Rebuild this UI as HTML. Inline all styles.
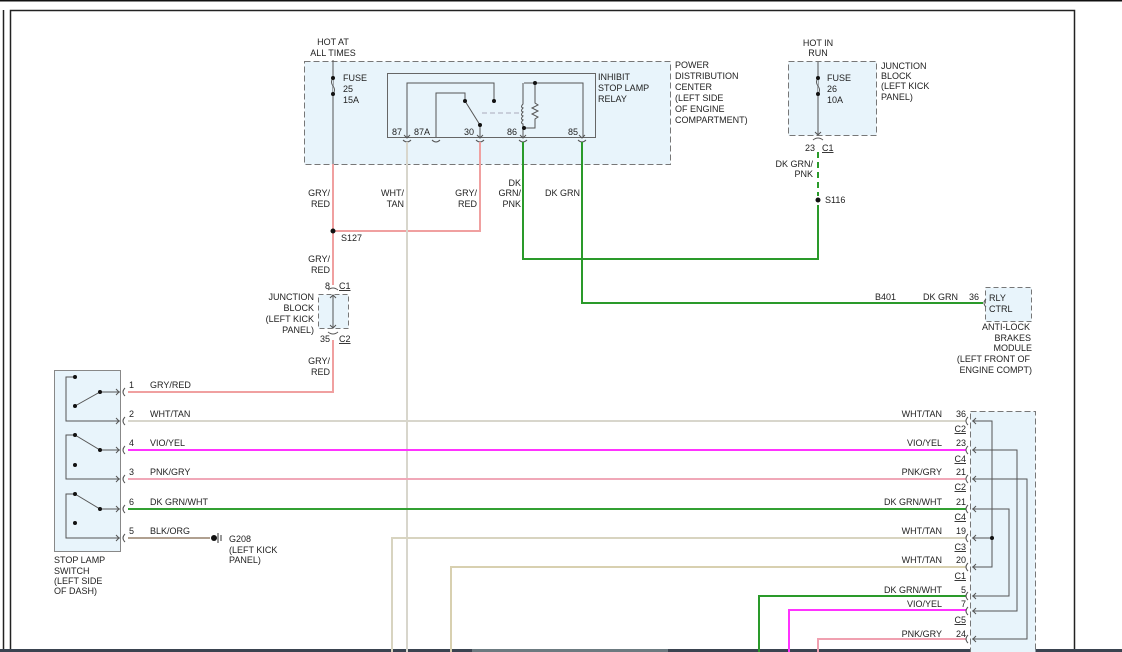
<!DOCTYPE html>
<html><head><meta charset="utf-8"><style>
html,body{margin:0;padding:0;background:#fff;width:1122px;height:652px;overflow:hidden}
svg{display:block}
text{font-family:"Liberation Sans",sans-serif;font-size:9px;fill:#222}
.e{text-anchor:end}.m{text-anchor:middle}
</style></head><body>
<svg width="1122" height="652" viewBox="0 0 1122 652" xmlns="http://www.w3.org/2000/svg">
<!-- frame -->
<line x1="0" y1="0.5" x2="1122" y2="0.5" stroke="#111" stroke-width="2"/>
<line x1="3.5" y1="10" x2="3.5" y2="652" stroke="#222" stroke-width="1.5"/>
<path d="M10.5 652 V10.5 H1074.5 V652" fill="none" stroke="#222" stroke-width="1.5"/>
<rect x="0" y="649" width="1122" height="3" fill="#3a4350"/>
<rect x="472" y="649" width="196" height="3" fill="#6c7a80"/>

<!-- PDC box -->
<rect x="304.5" y="61.5" width="366" height="103" fill="#e8f4fb" stroke="#777" stroke-dasharray="6,3"/>
<rect x="387.5" y="73.5" width="208" height="64" fill="#e8f4fb" stroke="#666"/>
<!-- relay internals -->
<g stroke="#555" fill="none" stroke-width="1">
<path d="M407 137 V83 H494 V101"/>
<path d="M436 137 V93 H465 V101"/>
<path d="M465 101 L480 125 V137"/>
<path d="M523 137 V128 H535 V119 l3 -2 -6 -3 6 -3 -6 -3 6 -3 -3 -2 V83 M524 83 H583 V137"/>
<path d="M523 128 V124 q-3 -1 0 -4 q-3 -1 0 -4 q-3 -1 0 -4 q-3 -1 0 -4 q-3 -1 0 -4 V83"/>
<line x1="482" y1="113" x2="520" y2="113" stroke="#aab" stroke-dasharray="5,3"/>
</g>
<g fill="#111"><circle cx="494" cy="101" r="2"/><circle cx="465" cy="101" r="2"/><circle cx="480" cy="125" r="2"/><circle cx="535" cy="83" r="2"/><circle cx="524" cy="128" r="2"/></g>
<g stroke="#555" fill="none">
<path d="M404 135 l3 3 3 -3 M403 140 q4 4 8 0"/>
<path d="M432 140 q4 4 8 0"/>
<path d="M477 135 l3 3 3 -3 M476 140 q4 4 8 0"/>
<path d="M520 135 l3 3 3 -3 M519 140 q4 4 8 0"/>
<path d="M579 135 l3 3 3 -3 M578 140 q4 4 8 0"/>
</g>
<text x="392" y="135">87</text><text x="414" y="135">87A</text><text x="464" y="135">30</text><text x="507" y="135">86</text><text x="568" y="135">85</text>
<!-- fuse 25 -->
<line x1="333" y1="60" x2="333" y2="164" stroke="#555"/>
<path d="M333 78 q-3 4 0 8 q3 4 0 8" stroke="#555" fill="#e8f4fb"/>
<circle cx="333" cy="78" r="2" fill="#111"/><circle cx="333" cy="94" r="2" fill="#111"/>
<text class="m" x="333" y="45">HOT AT</text><text class="m" x="333" y="56">ALL TIMES</text>
<text x="343" y="81">FUSE</text><text x="343" y="92">25</text><text x="343" y="103">15A</text>
<text x="598" y="80">INHIBIT</text><text x="598" y="91">STOP LAMP</text><text x="598" y="102">RELAY</text>
<text x="675" y="68">POWER</text><text x="675" y="79">DISTRIBUTION</text><text x="675" y="90">CENTER</text><text x="675" y="101">(LEFT SIDE</text><text x="675" y="112">OF ENGINE</text><text x="675" y="123">COMPARTMENT)</text>

<!-- wires -->
<g fill="none" stroke-width="2">
<path d="M333 164 V285 M333 340 V392 H128" stroke="#f0a0a0"/>
<path d="M333 231 H480 V142" stroke="#f0a0a0"/>
<path d="M407 142 V652" stroke="#d8d6cc"/>
<path d="M523 142 V259 H818 V205" stroke="#2a9a2a"/>
<path d="M582 142 V303 H983" stroke="#2a9a2a"/>
<path d="M818 152 V196" stroke="#2a9a2a" stroke-dasharray="6,4"/>
<path d="M128 421 H966" stroke="#d8d6cc"/>
<path d="M128 450 H966" stroke="#ff33ff"/>
<path d="M128 479 H966" stroke="#f0a8b8"/>
<path d="M128 509 H966" stroke="#33a033"/>
<path d="M128 538 H210" stroke="#b0a090"/>
<path d="M392 652 V538 H966" stroke="#d8d4c0"/>
<path d="M451 652 V567 H966" stroke="#d8d0b0"/>
<path d="M759 652 V596 H966" stroke="#2a9a2a"/>
<path d="M789 652 V610 H966" stroke="#ff33ff"/>
<path d="M818 652 V639 H966" stroke="#f0a0b0"/>
</g>
<circle cx="333" cy="231" r="2.5" fill="#111"/>
<text x="341" y="241">S127</text>
<text class="e" x="330" y="196">GRY/</text><text class="e" x="330" y="207">RED</text>
<text class="e" x="404" y="196">WHT/</text><text class="e" x="404" y="207">TAN</text>
<text class="e" x="477" y="196">GRY/</text><text class="e" x="477" y="207">RED</text>
<text class="e" x="521" y="186">DK</text><text class="e" x="521" y="196">GRN/</text><text class="e" x="521" y="207">PNK</text>
<text x="545" y="196">DK GRN</text>
<text class="e" x="330" y="262">GRY/</text><text class="e" x="330" y="273">RED</text>
<text class="e" x="330" y="364">GRY/</text><text class="e" x="330" y="375">RED</text>

<!-- small JB -->
<rect x="318.5" y="294.5" width="30" height="34" fill="#e8f4fb" stroke="#777" stroke-dasharray="5,3"/>
<path d="M333 295 V328 M330 298 l3 -3 3 3 M330 325 l3 3 3 -3 M328 290 q5 -4 10 0 M328 332 q5 4 10 0" stroke="#555" fill="none"/>
<text class="e" x="330" y="289">8</text><text x="339" y="289" text-decoration="underline">C1</text>
<text class="e" x="330" y="342">35</text><text x="339" y="342" text-decoration="underline">C2</text>
<text class="e" x="314" y="300">JUNCTION</text><text class="e" x="314" y="311">BLOCK</text><text class="e" x="314" y="322">(LEFT KICK</text><text class="e" x="314" y="333">PANEL)</text>

<!-- JB right -->
<rect x="788.5" y="61.5" width="88" height="74" fill="#e8f4fb" stroke="#777" stroke-dasharray="6,3"/>
<line x1="818" y1="62" x2="818" y2="135" stroke="#555"/>
<path d="M818 78 q-3 4 0 8 q3 4 0 8" stroke="#555" fill="#e8f4fb"/>
<circle cx="818" cy="78" r="2" fill="#111"/><circle cx="818" cy="94" r="2" fill="#111"/>
<path d="M815 132 l3 3 3 -3 M813 140 q5 -4 10 0" stroke="#555" fill="none"/>
<text class="m" x="818" y="46">HOT IN</text><text class="m" x="818" y="56">RUN</text>
<text x="827" y="81">FUSE</text><text x="827" y="92">26</text><text x="827" y="103">10A</text>
<text x="881" y="69">JUNCTION</text><text x="881" y="79">BLOCK</text><text x="881" y="89">(LEFT KICK</text><text x="881" y="100">PANEL)</text>
<text class="e" x="815" y="151">23</text><text x="822" y="151" text-decoration="underline">C1</text>
<text class="e" x="813" y="167">DK GRN/</text><text class="e" x="813" y="177">PNK</text>
<circle cx="818" cy="200" r="2.5" fill="#111"/><text x="825" y="203">S116</text>

<!-- ABS -->
<rect x="985.5" y="287.5" width="46" height="34" fill="#e8f4fb" stroke="#777" stroke-dasharray="5,3"/>
<path d="M986 299 q-4 4 0 8" stroke="#555" fill="none"/>
<text x="875" y="300">B401</text><text x="923" y="300">DK GRN</text><text x="969" y="300">36</text>
<text x="989" y="301">RLY</text><text x="989" y="312">CTRL</text>
<text class="e" x="1030" y="330">ANTI-LOCK</text><text class="e" x="1031" y="341">BRAKES</text><text class="e" x="1032" y="351">MODULE</text><text class="e" x="1030" y="362">(LEFT FRONT OF</text><text class="e" x="1032" y="373">ENGINE COMPT)</text>

<!-- switch -->
<rect x="54.5" y="370.5" width="66" height="181" fill="#e8f4fb" stroke="#888"/>
<g stroke="#555" fill="none">
<path d="M75 377 H66 V421 H120"/><path d="M75 406 L100 392 H120"/>
<path d="M75 435 H66 V479 H120"/><path d="M75 435 L100 450 H120"/>
<path d="M75 494 H66 V538 H120"/><path d="M75 494 L100 509 H120"/>
<path d="M116 389 l3 3 -3 3 M116 418 l3 3 -3 3 M116 447 l3 3 -3 3 M116 476 l3 3 -3 3 M116 506 l3 3 -3 3 M116 535 l3 3 -3 3"/>
<path d="M125 388 q-4 4 0 8 M125 417 q-4 4 0 8 M125 446 q-4 4 0 8 M125 475 q-4 4 0 8 M125 505 q-4 4 0 8 M125 534 q-4 4 0 8"/>
</g>
<g fill="#111"><circle cx="75" cy="377" r="2"/><circle cx="75" cy="406" r="2"/><circle cx="100" cy="392" r="2"/>
<circle cx="75" cy="435" r="2"/><circle cx="100" cy="450" r="2"/><circle cx="75" cy="465" r="2"/>
<circle cx="75" cy="494" r="2"/><circle cx="100" cy="509" r="2"/><circle cx="75" cy="523" r="2"/></g>
<text x="129" y="388">1</text><text x="150" y="388">GRY/RED</text>
<text x="129" y="417">2</text><text x="150" y="417">WHT/TAN</text>
<text x="129" y="446">4</text><text x="150" y="446">VIO/YEL</text>
<text x="129" y="475">3</text><text x="150" y="475">PNK/GRY</text>
<text x="129" y="505">6</text><text x="150" y="505">DK GRN/WHT</text>
<text x="129" y="534">5</text><text x="150" y="534">BLK/ORG</text>
<circle cx="214" cy="538" r="3" fill="#111"/><path d="M218 533 V543 M221 535 V541" stroke="#333"/>
<text x="229" y="542">G208</text><text x="229" y="553">(LEFT KICK</text><text x="229" y="563">PANEL)</text>
<text x="54" y="563">STOP LAMP</text><text x="54" y="574">SWITCH</text><text x="54" y="584">(LEFT SIDE</text><text x="54" y="594">OF DASH)</text>

<!-- right module -->
<rect x="970.5" y="411.5" width="65" height="245" fill="#e8f4fb" stroke="#777" stroke-dasharray="6,3"/>
<g stroke="#555" fill="none">
<path d="M972 421 H992 V567 H972 M972 538 H992"/>
<path d="M972 450 H1017 V611 H972"/>
<path d="M972 479 H1027 V639 H972"/>
<path d="M972 509 H1009 V596 H972"/>
<path d="M976 418 l-3 3 3 3 M976 447 l-3 3 3 3 M976 476 l-3 3 3 3 M976 506 l-3 3 3 3 M976 535 l-3 3 3 3 M976 564 l-3 3 3 3 M976 593 l-3 3 3 3 M976 608 l-3 3 3 3 M976 636 l-3 3 3 3"/>
<path d="M968 417 q-4 4 0 8 M968 446 q-4 4 0 8 M968 475 q-4 4 0 8 M968 505 q-4 4 0 8 M968 534 q-4 4 0 8 M968 563 q-4 4 0 8 M968 592 q-4 4 0 8 M968 607 q-4 4 0 8 M968 635 q-4 4 0 8"/>
</g>
<circle cx="992" cy="538" r="2" fill="#111"/>
<text class="e" x="942" y="417">WHT/TAN</text><text class="e" x="966" y="417">36</text><text class="e" x="966" y="432" text-decoration="underline">C2</text>
<text class="e" x="942" y="446">VIO/YEL</text><text class="e" x="966" y="446">23</text><text class="e" x="966" y="462" text-decoration="underline">C4</text>
<text class="e" x="942" y="475">PNK/GRY</text><text class="e" x="966" y="475">21</text><text class="e" x="966" y="490" text-decoration="underline">C2</text>
<text class="e" x="942" y="505">DK GRN/WHT</text><text class="e" x="966" y="505">21</text><text class="e" x="966" y="520" text-decoration="underline">C4</text>
<text class="e" x="942" y="534">WHT/TAN</text><text class="e" x="966" y="534">19</text><text class="e" x="966" y="550" text-decoration="underline">C3</text>
<text class="e" x="942" y="563">WHT/TAN</text><text class="e" x="966" y="563">20</text><text class="e" x="966" y="579" text-decoration="underline">C1</text>
<text class="e" x="942" y="593">DK GRN/WHT</text><text class="e" x="966" y="593">5</text>
<text class="e" x="942" y="607">VIO/YEL</text><text class="e" x="966" y="607">7</text><text class="e" x="966" y="623" text-decoration="underline">C5</text>
<text class="e" x="942" y="637">PNK/GRY</text><text class="e" x="966" y="637">24</text>
</svg>
</body></html>
